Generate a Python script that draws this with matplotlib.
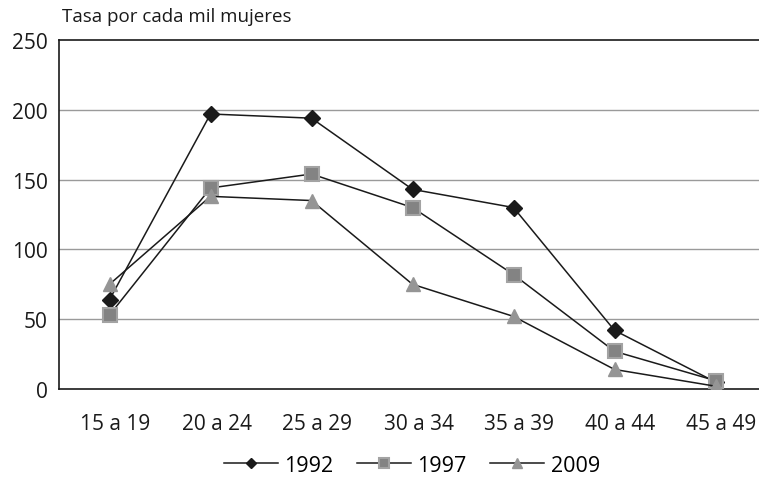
import matplotlib.pyplot as plt
from matplotlib.transforms import ScaledTranslation

plt.rcParams['font.family'] = ['Open Sans', 'DejaVu Sans']

grupos = ["15 a 19", "20 a 24", "25 a 29", "30 a 34", "35 a 39", "40 a 44", "45 a 49"]
tasa_1992 = [64, 197, 194, 143, 130, 42, 5]
tasa_1997 = [53, 144, 154, 130, 82, 27, 6]
tasa_2009 = [75, 138, 135, 75, 52, 14, 2]
y_ticks = [0, 50, 100, 150, 200, 250]

W, H = 759, 481
fig = plt.figure(figsize=(W / 100, H / 100), dpi=100)
ax = fig.add_axes([59 / W, (H - 390) / H, (766 - 59) / W, 349 / H])

x = range(len(grupos))
ax.plot(x, tasa_1992, color="#1a1a1a", lw=1.1, marker="D", ms=8,
        mfc="#1a1a1a", mec="#1a1a1a", label="1992", zorder=3)
ax.plot(x, tasa_1997, color="#1a1a1a", lw=1.1, marker="s", ms=10,
        mfc="#838383", mec="#a3a3a3", mew=1.5, label="1997", zorder=4)
ax.plot(x, tasa_2009, color="#1a1a1a", lw=1.1, marker="^", ms=10,
        mfc="#959595", mec="#959595", label="2009", zorder=5)

ax.set_xlim(-0.5, 6.5)
ax.set_ylim(0, 250)
ax.set_yticks(y_ticks)
ax.set_xticks(list(x))
ax.set_xticklabels(grupos)
for y in y_ticks[1:-1]:
    ax.axhline(y, color="#9a9a9a", lw=1, zorder=0)
ax.tick_params(length=0, labelsize=15, colors="#1a1a1a")
ax.tick_params(axis="y", pad=8)
ax.tick_params(axis="x", pad=17)
shift = ScaledTranslation(6 / 100, 0, fig.dpi_scale_trans)
for lbl in ax.get_xticklabels():
    lbl.set_transform(lbl.get_transform() + shift)
for s in ["top", "left", "bottom"]:
    ax.spines[s].set_color("#1a1a1a")
    ax.spines[s].set_linewidth(1.2)
ax.spines["right"].set_visible(False)

fig.text(62 / W, 1 - 17 / H, "Tasa por cada mil mujeres", fontsize=13.5,
         color="#1a1a1a", va="center", ha="left")

leg = fig.legend(loc="center", bbox_to_anchor=(412 / W, 1 - 466 / H), ncol=3,
                 frameon=False, fontsize=15.5, handlelength=2.5, columnspacing=1.1,
                 handletextpad=0.3, markerscale=0.7)

fig.savefig("out.png", dpi=100)
